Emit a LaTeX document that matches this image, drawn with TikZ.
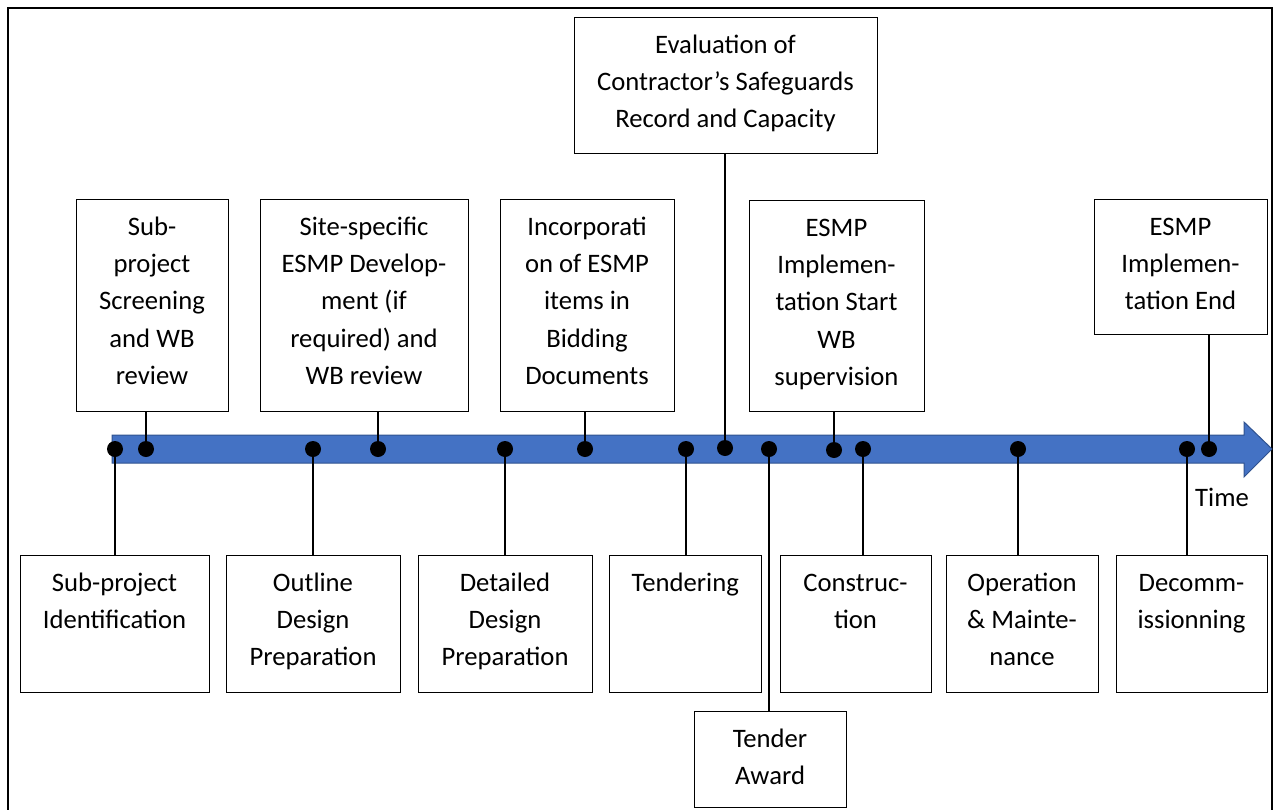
\documentclass[tikz,border=0pt]{standalone}
\usepackage{fontspec}
\setmainfont{Carlito}
\definecolor{arrowblue}{HTML}{4472C4}
\definecolor{arrowedge}{HTML}{2F528F}
\newcommand{\bx}[3]{\parbox[c][\dimexpr #2pt*3/4\relax][t]{\dimexpr #1pt*3/4\relax}{\centering\rule{0pt}{27pt}#3}}
\begin{document}
\begin{tikzpicture}[x=0.75pt,y=-0.75pt,
  font=\fontsize{20pt}{28.05pt}\selectfont,
  box/.style={draw=black, line width=0.75pt, inner sep=0pt, outer sep=0pt, fill=white},
  conn/.style={line width=1.5pt, draw=black},
  dot/.style={circle, fill=black, inner sep=0pt, minimum size=12pt}]
\useasboundingbox (0,0) rectangle (1274,810);
% frame
\draw[line width=1.5pt] (8,812) -- (8,8) -- (1272,8) -- (1272,812);
% time arrow
\draw[fill=arrowblue, draw=arrowedge, line width=0.75pt]
  (112,435) -- (1244,435) -- (1244,422) -- (1272,449) -- (1244,477) -- (1244,463) -- (112,463) -- cycle;
% top boxes
\node[box] (t1) at (152,305) {\bx{152}{212}{Sub-\\project\\Screening\\and WB\\review}};
\node[box] (t2) at (364,305) {\bx{208}{212}{Site-specific\\ESMP Develop-\\ment (if\\required) and\\WB review}};
\node[box] (t3) at (587,305) {\bx{174}{212}{Incorporati\\on of ESMP\\items in\\Bidding\\Documents}};
\node[box] (t4) at (725.5,85) {\bx{303}{136}{Evaluation of\\Contractor’s Safeguards\\Record and Capacity}};
\node[box] (t5) at (836.5,305.5) {\bx{175}{211}{ESMP\\Implemen-\\tation Start\\WB\\supervision}};
\node[box] (t6) at (1180.5,266.5) {\bx{173}{135}{ESMP\\Implemen-\\tation End}};
% bottom boxes
\node[box] (b1) at (114.5,623.5) {\bx{189}{137}{Sub-project\\Identification}};
\node[box] (b2) at (313,623.5) {\bx{174}{137}{Outline\\Design\\Preparation}};
\node[box] (b3) at (505,623.5) {\bx{174}{137}{Detailed\\Design\\Preparation}};
\node[box] (b4) at (685.25,623.5) {\bx{151.5}{137}{Tendering}};
\node[box] (b5) at (770,759) {\bx{152}{96}{Tender\\Award}};
\node[box] (b6) at (855.5,623.5) {\bx{151}{137}{Construc-\\tion}};
\node[box] (b7) at (1022,623.5) {\bx{152}{137}{Operation\\\& Mainte-\\nance}};
\node[box] (b8) at (1191.5,623.5) {\bx{151}{137}{Decomm-\\issionning}};
% dots
\node[dot] (dt1) at (146,449) {};
\node[dot] (dt2) at (378,449) {};
\node[dot] (dt3) at (585,449) {};
\node[dot] (dt4) at (725,448) {};
\node[dot] (dt5) at (834,450) {};
\node[dot] (dt6) at (1209,449) {};
\node[dot] (db1) at (115,449) {};
\node[dot] (db2) at (313,449) {};
\node[dot] (db3) at (505,449) {};
\node[dot] (db4) at (686,449) {};
\node[dot] (db5) at (769,449) {};
\node[dot] (db6) at (863,449) {};
\node[dot] (db7) at (1018,449) {};
\node[dot] (db8) at (1187,449) {};
% connectors
\foreach \n in {1,...,6} {\draw[conn] (t\n.south -| dt\n) -- (dt\n.center);}
\foreach \n in {1,...,8} {\draw[conn] (db\n.center) -- (b\n.north -| db\n);}
% label
\node (time) at (1222,497) {Time};
\end{tikzpicture}
\end{document}
